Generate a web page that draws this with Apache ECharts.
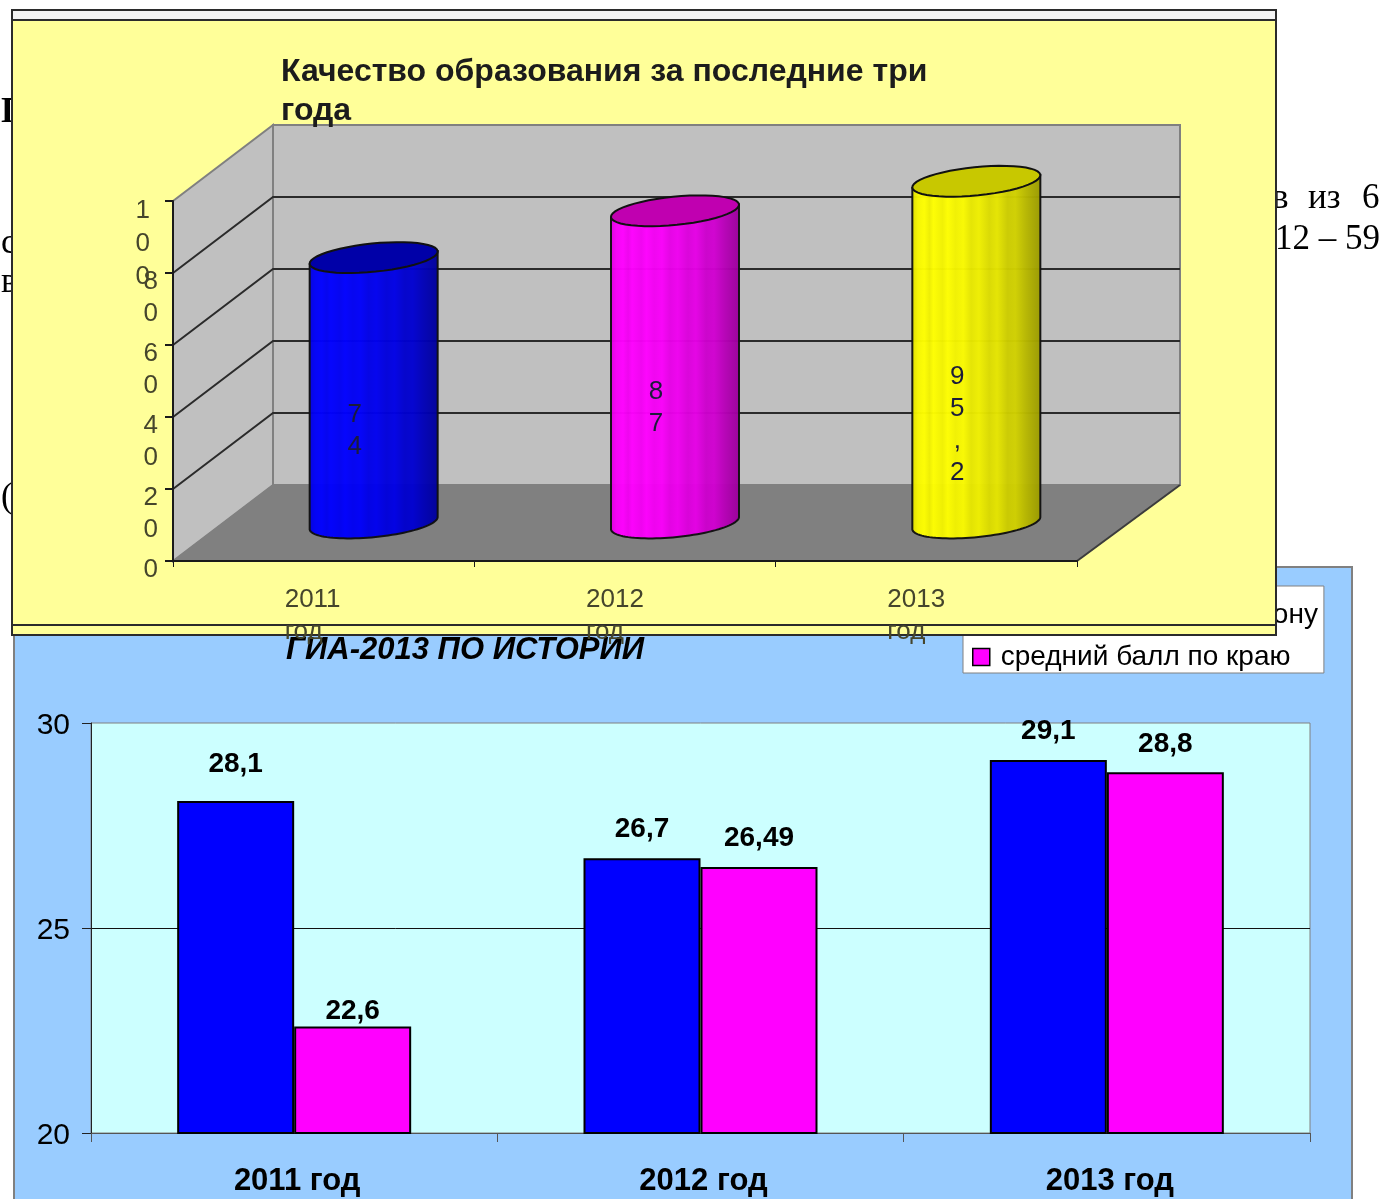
<!DOCTYPE html>
<html>
<head>
<meta charset="utf-8">
<style>
  html, body { margin: 0; padding: 0; background: #fff; }
  #main { width: 1383px; height: 1199px; }
</style>
<script src="https://cdn.jsdelivr.net/npm/echarts@6/dist/echarts.min.js"></script>
</head>
<body>
<div id="main"></div>
<script>
// верхняя диаграмма
var qualityYears = ['2011 год', '2012 год', '2013 год'];
var qualityValues = [74, 87, 95.2];
var qualityTicks = [0, 20, 40, 60, 80, 100];
// нижняя диаграмма
var gpaYears = ['2011 год', '2012 год', '2013 год'];
var districtName = 'средний балл по району';
var regionName = 'средний балл по краю';
var districtScores = [28.1, 26.7, 29.1];
var regionScores = [22.6, 26.49, 28.8];

var sans = 'Liberation Sans';
var serif = 'Liberation Serif';
var olive = '#45452c';

// сдвиг "глубины" объемной диаграммы
var depthX = 100, depthXRight = 103, depthY = 76;
var cylColors = [[0, 0, 255], [255, 0, 255], [255, 255, 0]];
var cylTops = ['#0000a8', '#c000b0', '#c8c800'];
var districtGap = [23, 15, 15];
var regionGap = [1, 15, 14];

function comma(v) { return String(v).replace('.', ','); }

function shade(c, k) {
  return 'rgb(' + Math.round(c[0] * k) + ',' + Math.round(c[1] * k) + ',' + Math.round(c[2] * k) + ')';
}

function stripes(c) {
  var s = [[0, .86], [.05, .97], [.1, 1], [.14, .94], [.17, 1], [.24, .95], [.28, 1], [.34, .95], [.4, .98],
           [.46, .9], [.52, .94], [.6, .86], [.66, .9], [.74, .8], [.8, .82], [.88, .72], [.94, .66], [1, .6]];
  return {
    type: 'linear', x: 0, y: 0, x2: 1, y2: 0,
    colorStops: s.map(function (p) { return { offset: p[0], color: shade(c, p[1]) }; })
  };
}

// наклонный эллипс торца цилиндра
function ellipsePoints(cx, cy, from, to) {
  var pts = [];
  for (var i = 0; i <= 48; i++) {
    var t = from + (to - from) * i / 48;
    pts.push([cx + Math.cos(t) * 64 + Math.sin(t) * 2, cy - Math.cos(t) * 6.5 + Math.sin(t) * 14]);
  }
  return pts;
}

function renderWalls(params, api) {
  var r = params.coordSys;
  var x0 = r.x, x1 = r.x + r.width, y0 = r.y, y1 = r.y + r.height;
  var kids = [
    { type: 'polygon', shape: { points: [[x0 + depthX, y0 - depthY], [x1 + depthXRight, y0 - depthY], [x1 + depthXRight, y1 - depthY], [x0 + depthX, y1 - depthY]] },
      style: { fill: '#c0c0c0', stroke: '#808080', lineWidth: 2 } },
    { type: 'polygon', shape: { points: [[x0, y0], [x0 + depthX, y0 - depthY], [x0 + depthX, y1 - depthY], [x0, y1]] },
      style: { fill: '#c0c0c0', stroke: '#808080', lineWidth: 2 } },
    { type: 'polygon', shape: { points: [[x0, y1], [x0 + depthX, y1 - depthY], [x1 + depthXRight, y1 - depthY], [x1, y1]] },
      style: { fill: '#808080', stroke: '#808080', lineWidth: 1 } }
  ];
  qualityTicks.forEach(function (t) {
    var y = api.coord([0, t])[1];
    kids.push({ type: 'line', shape: { x1: x0 - 8, y1: y, x2: x0, y2: y }, style: { stroke: '#1a1a1a', lineWidth: 2 } });
    if (t === 0 || t === 100) return;
    kids.push({ type: 'polyline', shape: { points: [[x0, y], [x0 + depthX, y - depthY], [x1 + depthXRight, y - depthY]] },
      style: { fill: null, stroke: '#2b2b2b', lineWidth: 2 } });
  });
  kids.push({ type: 'line', shape: { x1: x1, y1: y1, x2: x1 + depthXRight, y2: y1 - depthY },
    style: { stroke: '#3c3c3c', lineWidth: 2 } });
  // подпись 100 наезжает на 80, ось такое скрывает, поэтому рисуем ее здесь
  var maxTick = qualityTicks[qualityTicks.length - 1];
  kids.push({ type: 'text', style: {
    text: String(maxTick).split('').join('\n'),
    x: x0 - 23, y: api.coord([0, maxTick])[1] - 7, align: 'right', verticalAlign: 'top',
    font: '26px "' + sans + '"', lineHeight: 33, fill: olive } });
  return { type: 'group', children: kids };
}

function renderCylinder(params, api) {
  var i = api.value(0), v = api.value(1);
  var top = api.coord([i, v]), base = api.coord([i, 0]), mid = api.coord([i, v / 2]);
  var cx = top[0] + 50;
  var topY = top[1] - depthY / 2 + 1, baseY = base[1] - depthY / 2;
  var body = [[cx + 64, topY - 6.5]].concat(ellipsePoints(cx, baseY, 0, Math.PI), [[cx - 64, topY + 6.5]]);
  return {
    type: 'group',
    children: [
      { type: 'polygon', shape: { points: body },
        style: { fill: stripes(cylColors[i]), stroke: '#111', lineWidth: 2, opacity: .97 } },
      { type: 'polygon', shape: { points: ellipsePoints(cx, topY, 0, Math.PI * 2) },
        style: { fill: cylTops[i], stroke: '#111', lineWidth: 2 } },
      { type: 'text', style: {
          text: comma(qualityValues[i]).split('').join('\n'),
          x: cx - 19, y: mid[1] - 29, align: 'center', verticalAlign: 'top',
          font: '26px "' + sans + '"', lineHeight: 32, fill: '#1c1c3a' } }
    ]
  };
}

function pageWord(txt, x, y, bold) {
  return { type: 'text', z: -5, style: { text: txt, x: x, y: y, verticalAlign: 'bottom', fill: '#000',
    font: (bold ? 'bold ' : '') + '35px "' + serif + '"' } };
}

var option = {
  backgroundColor: '#fff',
  animation: false,
  graphic: { elements: [
    // кусочки текста страницы за диаграммами
    pageWord('П', 1, 130, true),
    pageWord('с', 1, 261),
    pageWord('в', 1, 300),
    pageWord('(', 1, 515),
    pageWord('в', 1272, 216),
    pageWord('из', 1308, 216),
    pageWord('6', 1362, 216),
    pageWord('12 – 59', 1275, 257),
    // фон нижней диаграммы
    { type: 'rect', z: -10, shape: { x: 14, y: 567, width: 1338, height: 640 },
      style: { fill: '#99ccff', stroke: '#808080', lineWidth: 2 } },
    // желтая панель верхней диаграммы
    { type: 'rect', z: 10, shape: { x: 12, y: 10, width: 1264, height: 625 },
      style: { fill: '#ffff99', stroke: '#2b2b2b', lineWidth: 2 } },
    { type: 'rect', z: 10, shape: { x: 13, y: 11, width: 1262, height: 9 },
      style: { fill: '#f4f4f4' } },
    { type: 'line', z: 10, shape: { x1: 12, y1: 20, x2: 1276, y2: 20 }, style: { stroke: '#2b2b2b', lineWidth: 2 } },
    { type: 'line', z: 10, shape: { x1: 12, y1: 625, x2: 1276, y2: 625 }, style: { stroke: '#2b2b2b', lineWidth: 2 } }
  ] },
  title: [
    { text: 'Качество образования за последние три\nгода', left: 281, top: 53, z: 30, padding: 0,
      textStyle: { fontFamily: sans, fontSize: 32, fontWeight: 'bold', color: '#1c1c1c', lineHeight: 39 } },
    { text: 'ГИА-2013 ПО ИСТОРИИ', left: 286, top: 635, z: 11, padding: 0,
      textStyle: { fontFamily: sans, fontSize: 31, fontWeight: 'bold', fontStyle: 'italic', color: '#000' } }
  ],
  legend: {
    data: [districtName, regionName],
    icon: 'rect',
    orient: 'vertical', left: 963, top: 586, z: 4,
    padding: [15, 6, 2, 9], itemGap: 14, itemWidth: 17, itemHeight: 17,
    backgroundColor: '#fff', borderColor: '#808080', borderWidth: 1, borderRadius: 0,
    itemStyle: { borderColor: '#000', borderWidth: 1.5 },
    textStyle: { fontFamily: sans, fontSize: 28, color: '#000', padding: [0, 0, 0, 6] }
  },
  grid: [
    { left: 91, top: 723, width: 1219, height: 410, show: true, backgroundColor: '#ccffff', borderColor: '#808080', borderWidth: 1 },
    { left: 173, top: 201, width: 904, height: 360 }
  ],
  xAxis: [
    { gridIndex: 0, type: 'category', data: gpaYears,
      axisLine: { lineStyle: { color: '#555', width: 1 } },
      axisTick: { show: true, length: 9, lineStyle: { color: '#555' } },
      axisLabel: { fontFamily: sans, fontSize: 31, fontWeight: 'bold', color: '#000', margin: 33, interval: 0, padding: [0, 0, 0, 6] } },
    { gridIndex: 1, type: 'category', data: qualityYears, z: 20,
      axisLine: { lineStyle: { color: '#1a1a1a', width: 2 } },
      axisTick: { show: true, length: 6, lineStyle: { color: '#1a1a1a' } },
      axisLabel: { fontFamily: sans, fontSize: 26, lineHeight: 32, color: olive, margin: 23, interval: 0,
        align: 'left', padding: [0, 0, 0, -39],
        formatter: function (s) { return s.replace(' ', '\n'); } } }
  ],
  yAxis: [
    { gridIndex: 0, type: 'value', min: 20, max: 30, interval: 5,
      axisLine: { show: true, lineStyle: { color: '#222', width: 1 } },
      axisTick: { show: true, length: 9, lineStyle: { color: '#222' } },
      splitLine: { show: true, showMinLine: false, showMaxLine: false, lineStyle: { color: '#111', width: 1 } },
      axisLabel: { fontFamily: sans, fontSize: 30, color: '#000', margin: 21, verticalAlign: 'top', padding: [-12, 0, 0, 0] } },
    { gridIndex: 1, type: 'value', min: 0, max: 100, interval: 20, z: 20,
      axisLine: { show: true, lineStyle: { color: '#1a1a1a', width: 2 } },
      axisTick: { show: false },
      splitLine: { show: false },
      axisLabel: { fontFamily: sans, fontSize: 26, lineHeight: 32, color: olive, margin: 15,
        verticalAlign: 'top', padding: [-7, 0, 0, 0],
        formatter: function (v) {
          return v === 100 ? '' : String(v).split('').join('\n');
        } } }
  ],
  series: [
    { name: districtName, type: 'bar', xAxisIndex: 0, yAxisIndex: 0, barWidth: 117, barGap: 0,
      itemStyle: { color: '#0000ff', borderColor: '#000', borderWidth: 2 },
      label: { show: true, position: 'top', fontFamily: sans, fontSize: 28, fontWeight: 'bold', color: '#000',
        formatter: function (p) { return comma(p.value); } },
      data: districtScores.map(function (v, i) { return { value: v, label: { distance: districtGap[i] } }; }) },
    { name: regionName, type: 'bar', xAxisIndex: 0, yAxisIndex: 0, barWidth: 117, barGap: 0,
      itemStyle: { color: '#ff00ff', borderColor: '#000', borderWidth: 2 },
      label: { show: true, position: 'top', fontFamily: sans, fontSize: 28, fontWeight: 'bold', color: '#000',
        formatter: function (p) { return comma(p.value); } },
      data: regionScores.map(function (v, i) { return { value: v, label: { distance: regionGap[i] } }; }) },
    { type: 'custom', xAxisIndex: 1, yAxisIndex: 1, z: 12, silent: true, renderItem: renderWalls, data: [[0, 0]], clip: false },
    { type: 'custom', xAxisIndex: 1, yAxisIndex: 1, z: 14, silent: true, renderItem: renderCylinder, clip: false,
      data: qualityValues.map(function (v, i) { return [i, v]; }) }
  ]
};

var chart = echarts.init(document.getElementById('main'));
chart.setOption(option);
</script>
</body>
</html>
